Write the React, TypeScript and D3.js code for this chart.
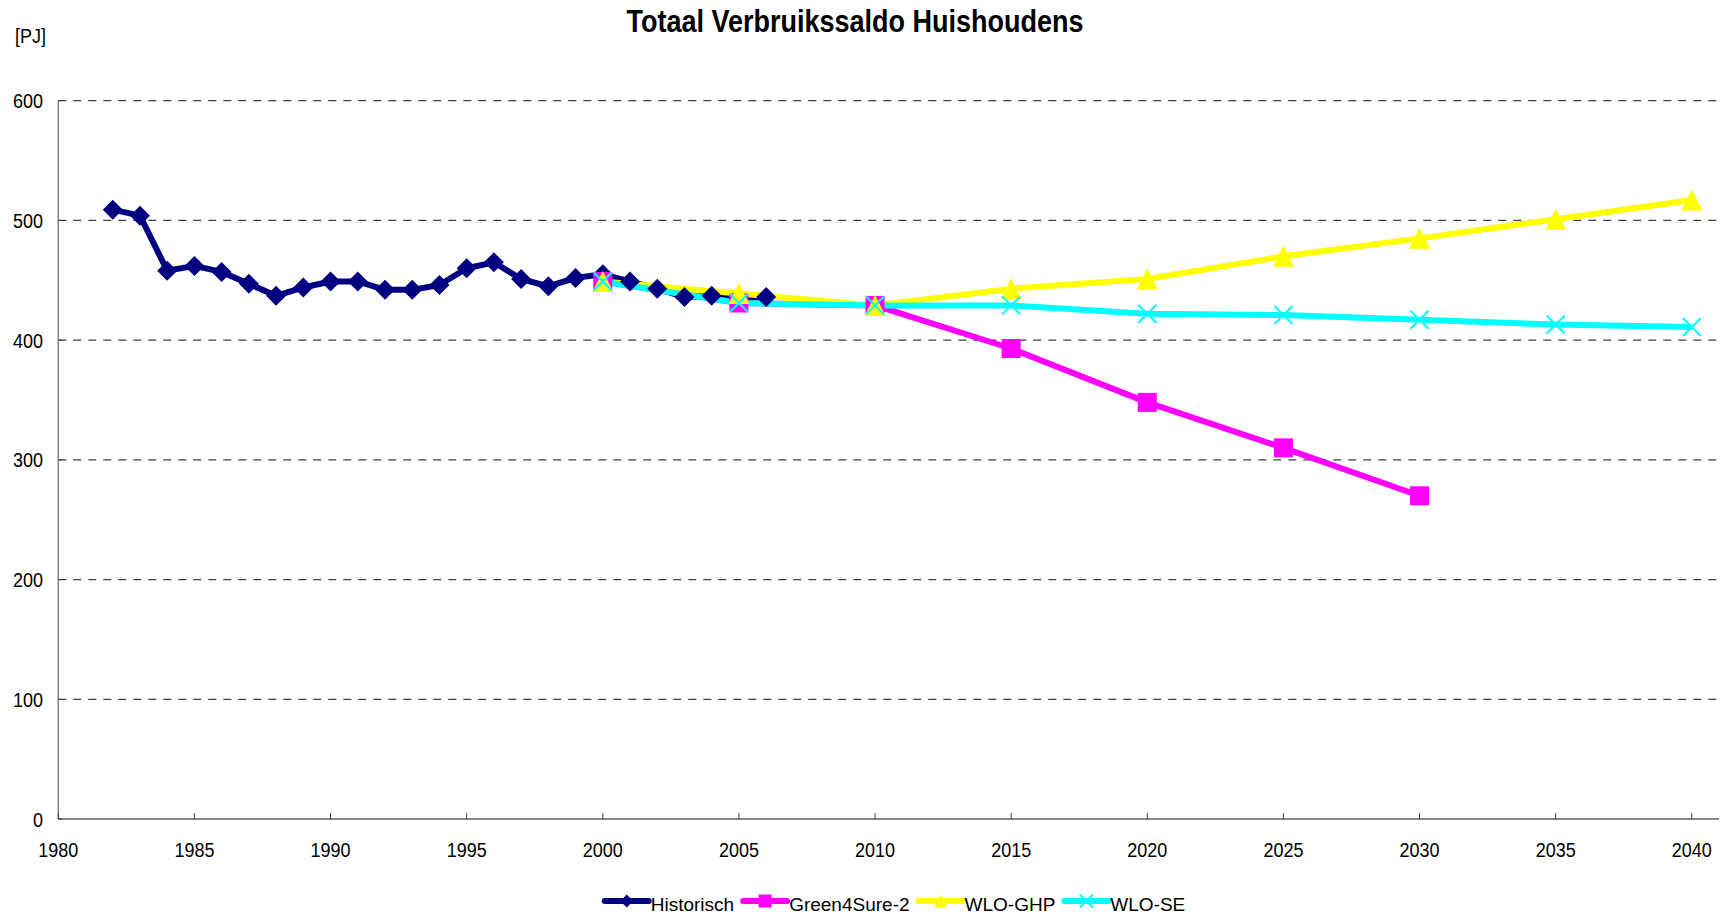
import React, { useRef, useEffect } from 'react';
import * as d3 from 'd3';

// historical series, yearly
const histYears = [1982, 1983, 1984, 1985, 1986, 1987, 1988, 1989, 1990, 1991, 1992, 1993, 1994,
  1995, 1996, 1997, 1998, 1999, 2000, 2001, 2002, 2003, 2004, 2005, 2006];
const histValues = [509, 504, 458, 462, 457, 447, 437, 444, 449, 449, 442, 442, 446,
  460, 465, 451, 445, 452, 455, 449, 443, 436, 437, 435, 436];

// scenarios, every 5 years
const scenYears = [2000, 2005, 2010, 2015, 2020, 2025, 2030, 2035, 2040];
const green4SureValues = [449, 431, 429, 393, 348, 310, 270];
const wloGhpValues = [449, 439, 429, 443, 451, 470, 485, 501, 517];
const wloSeValues = [449, 431, 429, 429, 422, 421, 417, 413, 411];

const xTicks = [1980, 1985, 1990, 1995, 2000, 2005, 2010, 2015, 2020, 2025, 2030, 2035, 2040];
const yTicks = [0, 100, 200, 300, 400, 500, 600];

const seriesNames = ['Historisch', 'Green4Sure-2', 'WLO-GHP', 'WLO-SE'];
const seriesColors = ['#000080', '#FF00FF', '#FFFF00', '#00FFFF'];
const seriesMarkers = ['diamond', 'square', 'triangle', 'cross'];

const W = 1727;
const H = 917;
const font = '"Liberation Sans", Arial, sans-serif';

function markerPath(type: string, s: number) {
  const h = s / 2;
  if (type === 'diamond') return `M0,${-h}L${h},0L0,${h}L${-h},0Z`;
  if (type === 'square') return `M${-h},${-h}H${h}V${h}H${-h}Z`;
  if (type === 'triangle') return `M0,${-h}L${h},${h}H${-h}Z`;
  return `M${-h},${-h}L${h},${h}M${h},${-h}L${-h},${h}`;
}

function drawMarker(g: any, type: string, color: string, s: number) {
  const p = g.append('path').attr('d', markerPath(type, s));
  if (type === 'cross') p.attr('fill', 'none').attr('stroke', color).attr('stroke-width', 2);
  else p.attr('fill', color);
}

export default function App() {
  const svgRef = useRef<SVGSVGElement>(null);

  useEffect(() => {
    const svg = d3.select(svgRef.current);
    svg.selectAll('*').remove();

    const x = d3.scaleLinear().domain([1980, 2041]).range([58.3, 1719]);
    const y = d3.scaleLinear().domain([0, 600]).range([819, 100.7]);

    const series = [
      { years: histYears, values: histValues },
      { years: scenYears.slice(0, green4SureValues.length), values: green4SureValues },
      { years: scenYears, values: wloGhpValues },
      { years: scenYears, values: wloSeValues },
    ].map((d, i) => ({
      name: seriesNames[i], color: seriesColors[i], marker: seriesMarkers[i],
      points: d.years.map((yr, j) => ({ yr, v: d.values[j] })),
    }));

    // gridlines
    svg.append('g').selectAll('line').data(yTicks.filter(t => t > 0)).join('line')
      .attr('x1', x(1980)).attr('x2', x(2041))
      .attr('y1', d => y(d)).attr('y2', d => y(d))
      .attr('stroke', '#404040').attr('stroke-width', 1.2).attr('stroke-dasharray', '8 7');

    // axes
    svg.append('line').attr('x1', x(1980)).attr('x2', x(1980)).attr('y1', y(600)).attr('y2', y(0))
      .attr('stroke', '#808080').attr('stroke-width', 1.5);
    svg.append('line').attr('x1', x(1980)).attr('x2', x(2041)).attr('y1', y(0)).attr('y2', y(0))
      .attr('stroke', '#606060').attr('stroke-width', 1.5);

    svg.append('g').selectAll('line').data(xTicks).join('line')
      .attr('x1', d => x(d)).attr('x2', d => x(d)).attr('y1', y(0)).attr('y2', y(0) - 6)
      .attr('stroke', '#404040').attr('stroke-width', 1);
    svg.append('g').selectAll('line').data(yTicks).join('line')
      .attr('x1', x(1980)).attr('x2', x(1980) + 4).attr('y1', d => y(d)).attr('y2', d => y(d))
      .attr('stroke', '#404040').attr('stroke-width', 1);

    svg.append('g').selectAll('text').data(xTicks).join('text')
      .attr('transform', d => `translate(${x(d)},857) scale(1,1.1)`).attr('text-anchor', 'middle')
      .attr('font-family', font).attr('font-size', 18).attr('fill', '#000')
      .text(d => d);
    svg.append('g').selectAll('text').data(yTicks).join('text')
      .attr('transform', d => `translate(43,${y(d) + 7.5}) scale(1,1.1)`).attr('text-anchor', 'end')
      .attr('font-family', font).attr('font-size', 18).attr('fill', '#000')
      .text(d => d);

    svg.append('text').attr('transform', 'translate(15,43) scale(1,1.1)')
      .attr('font-family', font).attr('font-size', 18).text('[PJ]');

    svg.append('text').attr('transform', 'translate(855,32) scale(1,1.14)').attr('text-anchor', 'middle')
      .attr('font-family', font)
      .attr('font-weight', 'bold').attr('font-size', 27).text('Totaal Verbruikssaldo Huishoudens');

    // lines first, then markers
    const line = d3.line<{ yr: number; v: number }>().x(d => x(d.yr)).y(d => y(d.v));
    series.forEach(s => {
      svg.append('path').datum(s.points).attr('d', line)
        .attr('fill', 'none').attr('stroke', s.color).attr('stroke-width', 6)
        .attr('stroke-linejoin', 'round');
    });
    const sizes: Record<string, number> = { diamond: 20, square: 19, triangle: 21, cross: 18 };
    series.forEach(s => {
      s.points.forEach(p => {
        const g = svg.append('g').attr('transform', `translate(${x(p.yr)},${y(p.v)})`);
        drawMarker(g, s.marker, s.color, sizes[s.marker]);
      });
    });

    // legend
    const leg = svg.append('g');
    let cx = 0;
    series.forEach(s => {
      const g = leg.append('g').attr('transform', `translate(${cx},0)`);
      g.append('line').attr('x1', 0).attr('x2', 44).attr('y1', 0).attr('y2', 0)
        .attr('stroke', s.color).attr('stroke-width', 6).attr('stroke-linecap', 'round');
      const m = g.append('g').attr('transform', 'translate(22,0)');
      drawMarker(m, s.marker, s.color, 13);
      const t = g.append('text').attr('x', 46).attr('y', 10)
        .attr('font-family', font).attr('font-size', 19).text(s.name);
      const tw = (t.node() as SVGTextElement).getComputedTextLength();
      cx += 46 + tw + 9;
    });
    const total = cx - 9;
    leg.attr('transform', `translate(${895 - total / 2},901)`);
  }, []);

  return (
    <svg ref={svgRef} width={W} height={H}
      style={{ position: 'absolute', left: 0, top: 0, background: '#fff' }} />
  );
}
